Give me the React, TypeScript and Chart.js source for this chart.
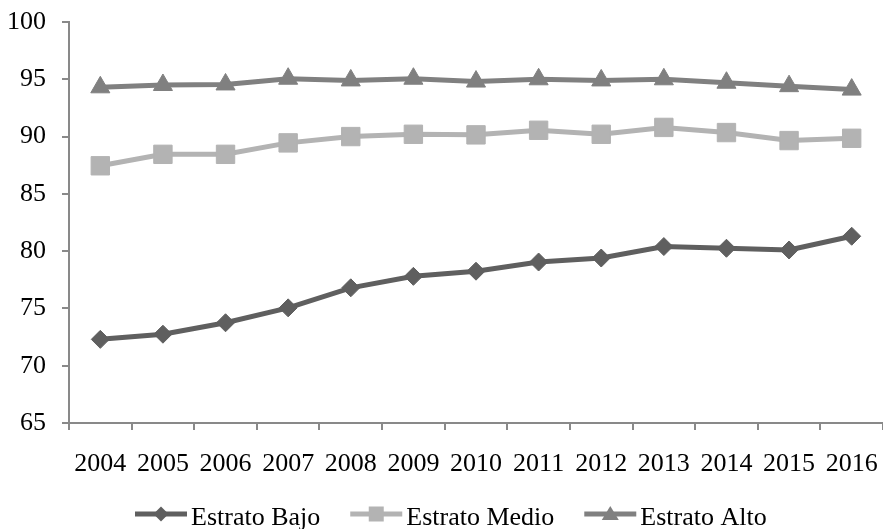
import React, { useEffect, useRef } from 'react';
import { Chart, registerables } from 'chart.js';

Chart.register(...registerables);

const years = ['2004', '2005', '2006', '2007', '2008', '2009', '2010', '2011', '2012', '2013', '2014', '2015', '2016'];
const estratoBajo = [72.3, 72.75, 73.75, 75.05, 76.8, 77.8, 78.25, 79.05, 79.4, 80.4, 80.25, 80.1, 81.3];
const estratoMedio = [87.45, 88.45, 88.45, 89.45, 90.0, 90.2, 90.15, 90.55, 90.2, 90.8, 90.35, 89.65, 89.85];
const estratoAlto = [94.3, 94.5, 94.55, 95.05, 94.9, 95.05, 94.8, 95.0, 94.9, 95.0, 94.7, 94.4, 94.1];
const seriesNames = ['Estrato Bajo', 'Estrato Medio', 'Estrato Alto'];
const yMin = 65;
const yMax = 100;
const yStep = 5;

const FONT = '"Liberation Serif", "Times New Roman", serif';
const AXIS = '#898989';
const C_BAJO = '#5f5f5f';
const C_MEDIO = '#b3b3b3';
const C_ALTO = '#808080';

function drawMarker(ctx: CanvasRenderingContext2D, style: string, x: number, y: number, color: string) {
  ctx.fillStyle = color;
  ctx.beginPath();
  if (style === 'rectRot') {
    const r = 7.5;
    ctx.moveTo(x - r, y);
    ctx.lineTo(x, y - r);
    ctx.lineTo(x + r, y);
    ctx.lineTo(x, y + r);
  } else if (style === 'rect') {
    const h = 7.5;
    ctx.rect(x - h, y - h, 2 * h, 2 * h);
  } else {
    const w = 8.5;
    ctx.moveTo(x, y - 8);
    ctx.lineTo(x + w, y + 6);
    ctx.lineTo(x - w, y + 6);
  }
  ctx.closePath();
  ctx.fill();
}

const legendPlugin = {
  id: 'customLegend',
  afterDraw(chart: any) {
    const ctx: CanvasRenderingContext2D = chart.ctx;
    ctx.save();
    ctx.font = `26px ${FONT}`;
    const lineW = 52;
    const gapText = 4;
    const gapItem = 30;
    const lineY = 514;
    const baseY = 525;
    let x = 135;
    chart.data.datasets.forEach((ds: any) => {
      ctx.strokeStyle = ds.borderColor;
      ctx.lineWidth = 5;
      ctx.beginPath();
      ctx.moveTo(x, lineY);
      ctx.lineTo(x + lineW, lineY);
      ctx.stroke();
      drawMarker(ctx, ds.pointStyle, x + lineW / 2, lineY, ds.borderColor);
      ctx.fillStyle = '#000000';
      ctx.textAlign = 'left';
      ctx.textBaseline = 'alphabetic';
      const tx = x + lineW + gapText;
      ctx.fillText(ds.label, tx, baseY);
      x = tx + ctx.measureText(ds.label).width + gapItem;
    });
    ctx.restore();
  },
};

export default function App() {
  const canvasRef = useRef<HTMLCanvasElement | null>(null);

  useEffect(() => {
    document.body.style.margin = '0';
    const canvas = canvasRef.current;
    if (!canvas) return;
    const chart = new Chart(canvas, {
      type: 'line',
      data: {
        labels: years,
        datasets: [
          {
            label: seriesNames[0],
            data: estratoBajo,
            borderColor: C_BAJO,
            backgroundColor: C_BAJO,
            pointBackgroundColor: C_BAJO,
            pointBorderColor: C_BAJO,
            borderWidth: 5,
            pointStyle: 'rectRot',
            pointRadius: 9,
            pointBorderWidth: 1,
            tension: 0,
          },
          {
            label: seriesNames[1],
            data: estratoMedio,
            borderColor: C_MEDIO,
            backgroundColor: C_MEDIO,
            pointBackgroundColor: C_MEDIO,
            pointBorderColor: C_MEDIO,
            borderWidth: 5,
            pointStyle: 'rect',
            pointRadius: 13,
            pointBorderWidth: 1,
            tension: 0,
          },
          {
            label: seriesNames[2],
            data: estratoAlto,
            borderColor: C_ALTO,
            backgroundColor: C_ALTO,
            pointBackgroundColor: C_ALTO,
            pointBorderColor: C_ALTO,
            borderWidth: 5,
            pointStyle: 'triangle',
            pointRadius: 11,
            pointBorderWidth: 1,
            tension: 0,
          },
        ],
      },
      options: {
        responsive: false,
        animation: false,
        layout: { autoPadding: false, padding: { top: 22, right: 0, bottom: 0, left: 0 } },
        plugins: {
          legend: { display: false },
          tooltip: { enabled: false },
        },
        scales: {
          x: {
            offset: true,
            grid: {
              offset: true,
              drawOnChartArea: false,
              drawTicks: true,
              tickLength: 7,
              color: AXIS,
              lineWidth: 2,
            },
            border: { color: AXIS, width: 2 },
            ticks: {
              color: '#000000',
              font: { family: FONT, size: 26 },
              padding: 19,
              maxRotation: 0,
              autoSkip: false,
            },
            afterFit: (scale: any) => {
              scale.height = 106;
              scale.paddingLeft = 0;
              scale.paddingRight = 0;
            },
          },
          y: {
            min: yMin,
            max: yMax,
            grid: {
              drawOnChartArea: false,
              drawTicks: true,
              tickLength: 7,
              color: AXIS,
              lineWidth: 2,
            },
            border: { color: AXIS, width: 2 },
            ticks: {
              stepSize: yStep,
              color: '#000000',
              font: { family: FONT, size: 26 },
              padding: 16,
            },
            afterFit: (scale: any) => {
              scale.width = 69;
              scale.paddingTop = 0;
              scale.paddingBottom = 0;
            },
          },
        },
      },
      plugins: [legendPlugin],
    });
    return () => chart.destroy();
  }, []);

  return (
    <div style={{ width: 883, height: 529, position: 'relative', background: '#ffffff' }}>
      <canvas ref={canvasRef} width={883} height={529} />
    </div>
  );
}
